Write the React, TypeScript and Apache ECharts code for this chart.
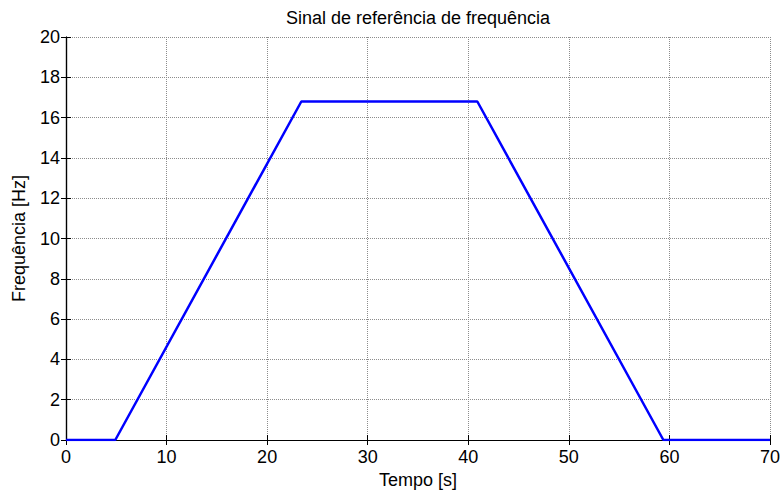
import React, { useEffect, useRef } from "react";
import * as echarts from "echarts";

const timeValues = [0, 4.9, 23.4, 40.9, 59.4, 70];
const freqValues = [0, 0, 16.8, 16.8, 0, 0];
const titleText = "Sinal de referência de frequência";
const xName = "Tempo [s]";
const yName = "Frequência [Hz]";

export default function App() {
  const ref = useRef<HTMLDivElement>(null);
  useEffect(() => {
    const chart = echarts.init(ref.current!, null, { renderer: "svg" });
    const font = "Liberation Sans, Arial, sans-serif";
    const splitLine = { show: true, lineStyle: { color: "#8c8c8c", type: [1, 1], width: 1 } };
    const axisLine = { show: true, lineStyle: { color: "#000", width: 1.2 } };
    const axisTick = { show: true, inside: true, length: 5, lineStyle: { color: "#000" } };
    chart.setOption({
      animation: false,
      backgroundColor: "#fff",
      title: {
        text: titleText,
        left: 413,
        top: 4,
        textAlign: "center",
        textStyle: { fontFamily: font, fontSize: 18, fontWeight: "normal", color: "#000" },
      },
      grid: { left: 66, right: 13, top: 37, bottom: 54 },
      xAxis: [
        {
          type: "value",
          min: 0,
          max: 70,
          interval: 10,
          name: xName,
          nameLocation: "middle",
          nameGap: 30,
          nameTextStyle: { fontFamily: font, fontSize: 18, color: "#000" },
          axisLine,
          axisTick,
          axisLabel: { fontFamily: font, fontSize: 18, color: "#000", margin: 8 },
          splitLine,
        },
        {
          type: "value",
          position: "top",
          min: 0,
          max: 70,
          interval: 10,
          axisLine,
          axisTick,
          axisLabel: { show: false },
          splitLine: { show: false },
        },
      ],
      yAxis: [
        {
          type: "value",
          min: 0,
          max: 20,
          interval: 2,
          name: yName,
          nameLocation: "middle",
          nameGap: 38,
          nameTextStyle: { fontFamily: font, fontSize: 18, color: "#000" },
          axisLine,
          axisTick,
          axisLabel: { fontFamily: font, fontSize: 18, color: "#000", margin: 6 },
          splitLine,
        },
        {
          type: "value",
          position: "right",
          min: 0,
          max: 20,
          interval: 2,
          axisLine,
          axisTick,
          axisLabel: { show: false },
          splitLine: { show: false },
        },
      ],
      series: [
        {
          type: "line",
          data: timeValues.map((t, i) => [t, freqValues[i]]),
          showSymbol: false,
          lineStyle: { color: "#0000ff", width: 2.5 },
          xAxisIndex: 0,
          yAxisIndex: 0,
        },
      ],
    });
    return () => chart.dispose();
  }, []);
  return (
    <div
      ref={ref}
      style={{ position: "absolute", left: 0, top: 0, width: 783, height: 494 }}
    />
  );
}
